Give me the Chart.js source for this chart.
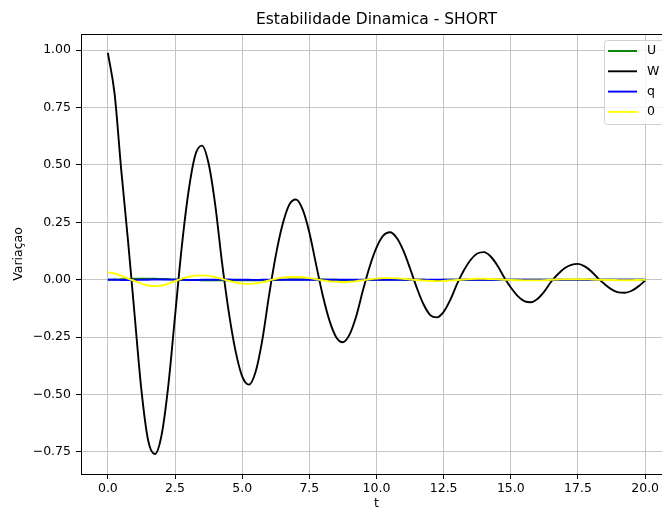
<!DOCTYPE html>
<html lang="pt">
<head>
<meta charset="UTF-8">
<title>Estabilidade Dinamica - SHORT</title>
<script src="https://cdn.jsdelivr.net/npm/chart.js"></script>
<style>
  body { margin: 0; background: #fff; overflow: hidden; }
  #wrap { width: 680px; height: 510px; }
</style>
</head>
<body>
<div id="wrap"><canvas id="chart" width="680" height="510"></canvas></div>
<script>
// sample times
const t = [0, 0.25, 0.5, 0.75, 1, 1.25, 1.5, 1.75, 2, 2.25, 2.5, 2.75, 3, 3.25, 3.5, 3.75,
  4, 4.25, 4.5, 4.75, 5, 5.25, 5.5, 5.75, 6, 6.25, 6.5, 6.75, 7, 7.25, 7.5, 7.75,
  8, 8.25, 8.5, 8.75, 9, 9.25, 9.5, 9.75, 10, 10.25, 10.5, 10.75, 11, 11.25, 11.5, 11.75,
  12, 12.25, 12.5, 12.75, 13, 13.25, 13.5, 13.75, 14, 14.25, 14.5, 14.75, 15, 15.25, 15.5, 15.75,
  16, 16.25, 16.5, 16.75, 17, 17.25, 17.5, 17.75, 18, 18.25, 18.5, 18.75, 19, 19.25, 19.5, 19.75, 20];

const U = [0.000, 0.001, 0.002, 0.003, 0.004, 0.004, 0.004, 0.004, 0.003, 0.002, 0.001, 0.000, -0.001, -0.001, -0.002, -0.002,
  -0.002, -0.003, -0.003, -0.003, -0.003, -0.003, -0.003, -0.002, -0.002, -0.001, 0.000, 0.001, 0.001, 0.001, 0.001, 0.001,
  0.001, 0.000, 0.000, -0.001, -0.001, -0.001, -0.001, 0.000, 0.000, 0.000, 0.001, 0.001, 0.000, 0.000, 0.000, 0.000,
  -0.001, -0.001, 0.000, 0.000, 0.000, 0.000, 0.000, 0.000, 0.000, 0.000, 0.000, 0.000, 0.000, 0.000, 0.000, 0.000,
  0.000, 0.000, 0.000, 0.000, 0.000, 0.000, 0.000, 0.000, 0.000, 0.000, 0.000, 0.000, 0.000, 0.000, 0.000, 0.000, 0.000];

const W = [0.988, 0.810, 0.475, 0.170, -0.159, -0.482, -0.700, -0.759, -0.676, -0.461, -0.159, 0.142, 0.382, 0.541, 0.584, 0.506,
  0.323, 0.074, -0.140, -0.309, -0.421, -0.457, -0.401, -0.262, -0.068, 0.105, 0.239, 0.326, 0.349, 0.306, 0.206, 0.067,
  -0.069, -0.178, -0.250, -0.272, -0.238, -0.157, -0.044, 0.059, 0.140, 0.192, 0.207, 0.183, 0.127, 0.049, -0.035, -0.107,
  -0.154, -0.164, -0.140, -0.087, -0.018, 0.040, 0.086, 0.114, 0.120, 0.101, 0.062, 0.011, -0.034, -0.070, -0.093, -0.098,
  -0.083, -0.051, -0.009, 0.024, 0.050, 0.065, 0.069, 0.058, 0.036, 0.006, -0.020, -0.042, -0.055, -0.057, -0.048, -0.029, -0.004];

const q = [0.000, 0.000, -0.001, -0.001, -0.001, 0.000, 0.000, 0.001, 0.001, 0.001, 0.000, 0.000, -0.001, -0.001, 0.000, 0.000,
  0.000, 0.001, 0.001, 0.000, 0.000, 0.000, -0.001, 0.000, 0.000, 0.000, 0.000, 0.000, 0.000, 0.000, 0.000, 0.000,
  0.000, 0.000, 0.000, 0.000, 0.000, 0.000, 0.000, 0.000, 0.000, 0.000, 0.000, 0.000, 0.000, 0.000, 0.000, 0.000,
  0.000, 0.000, 0.000, 0.000, 0.000, 0.000, 0.000, 0.000, 0.000, 0.000, 0.000, 0.000, 0.000, 0.000, 0.000, 0.000,
  0.000, 0.000, 0.000, 0.000, 0.000, 0.000, 0.000, 0.000, 0.000, 0.000, 0.000, 0.000, 0.000, 0.000, 0.000, 0.000, 0.000];

const theta = [0.032, 0.027, 0.017, 0.005, -0.006, -0.017, -0.025, -0.028, -0.025, -0.017, -0.006, 0.005, 0.013, 0.018, 0.019, 0.017,
  0.011, 0.003, -0.005, -0.012, -0.017, -0.018, -0.016, -0.010, -0.003, 0.004, 0.009, 0.012, 0.012, 0.011, 0.007, 0.002,
  -0.003, -0.007, -0.009, -0.010, -0.009, -0.006, -0.002, 0.002, 0.005, 0.007, 0.007, 0.006, 0.004, 0.001, -0.001, -0.004,
  -0.005, -0.006, -0.005, -0.003, -0.001, 0.001, 0.003, 0.004, 0.004, 0.003, 0.002, 0.000, -0.001, -0.002, -0.003, -0.003,
  -0.003, -0.002, 0.000, 0.001, 0.002, 0.002, 0.002, 0.002, 0.001, 0.000, -0.001, -0.001, -0.002, -0.002, -0.002, -0.001, 0.000];

const xTicks = [0, 2.5, 5, 7.5, 10, 12.5, 15, 17.5, 20];
const yTicks = [-0.75, -0.5, -0.25, 0, 0.25, 0.5, 0.75, 1.0];

const FONT = 'DejaVu Sans';

function series(label, values, color, order) {
    return {
        label: label,
        data: t.map((x, i) => ({ x: x, y: values[i] })),
        borderColor: color,
        borderWidth: 1.9,
        pointRadius: 0,
        cubicInterpolationMode: 'monotone',
        fill: false,
        order: order
    };
}

// black box around the plot area (all four spines)
const framePlugin = {
    id: 'frame',
    beforeDatasetsDraw(chart) {
        const a = chart.chartArea, ctx = chart.ctx;
        ctx.save();
        ctx.strokeStyle = '#000';
        ctx.lineWidth = 1;
        ctx.strokeRect(Math.round(a.left) + 0.5, Math.round(a.top) + 0.5,
            Math.round(a.right - a.left), Math.round(a.bottom - a.top));
        ctx.restore();
    }
};

// matplotlib-like legend box in the upper right corner
const legendPlugin = {
    id: 'boxLegend',
    afterDatasetsDraw(chart) {
        const ctx = chart.ctx, a = chart.chartArea;
        const items = chart.data.datasets;
        const w = 62, rowH = 20.3, h = 84;
        const x = Math.round(a.right - 6 - w), y = Math.round(a.top + 6);
        ctx.save();
        ctx.fillStyle = 'rgba(255,255,255,0.8)';
        ctx.strokeStyle = '#d0d0d0';
        ctx.lineWidth = 1;
        ctx.beginPath();
        ctx.roundRect(x + 0.5, y + 0.5, w, h, 3);
        ctx.fill();
        ctx.stroke();
        ctx.font = '12.5px "' + FONT + '"';
        ctx.textBaseline = 'middle';
        items.forEach((d, i) => {
            const cy = y + 11 + i * rowH;
            ctx.strokeStyle = d.borderColor;
            ctx.lineWidth = 1.9;
            ctx.beginPath();
            ctx.moveTo(x + 4, cy);
            ctx.lineTo(x + 33, cy);
            ctx.stroke();
            ctx.fillStyle = '#000';
            ctx.fillText(d.label, x + 43, cy);
        });
        ctx.restore();
    }
};

new Chart(document.getElementById('chart'), {
    type: 'line',
    data: {
        datasets: [
            series('U', U, 'green', 3),
            series('W', W, 'black', 2),
            series('q', q, 'blue', 1),
            series('0', theta, 'yellow', 0)
        ]
    },
    options: {
        responsive: false,
        animation: false,
        layout: { padding: { left: 0, right: 8, top: 0, bottom: 0 } },
        plugins: {
            legend: { display: false },
            tooltip: { enabled: false },
            title: {
                display: true,
                text: 'Estabilidade Dinamica - SHORT',
                fullSize: false,
                color: '#000',
                font: { family: FONT, size: 15.5, weight: 'normal' },
                padding: { top: 11, bottom: 4.4 }
            }
        },
        scales: {
            x: {
                type: 'linear',
                min: -1,
                max: 21,
                afterBuildTicks: s => { s.ticks = xTicks.map(v => ({ value: v })); },
                afterFit: s => { s.height = 36; },
                border: { display: false },
                grid: { color: '#c4c4c4', lineWidth: 1, tickLength: 5, tickColor: '#000' },
                ticks: {
                    color: '#000',
                    padding: 2,
                    maxRotation: 0,
                    font: { family: FONT, size: 12.5 },
                    callback: v => v.toFixed(1)
                },
                title: {
                    display: true,
                    text: 't',
                    color: '#000',
                    font: { family: FONT, size: 12.5 },
                    padding: { top: 0, bottom: -1 }
                }
            },
            y: {
                min: -0.846,
                max: 1.07,
                afterBuildTicks: s => { s.ticks = yTicks.map(v => ({ value: v })); },
                afterFit: s => { s.width = 81; },
                border: { display: false },
                grid: { color: '#c4c4c4', lineWidth: 1, tickLength: 5, tickColor: '#000' },
                ticks: {
                    color: '#000',
                    padding: 5,
                    font: { family: FONT, size: 12.5 },
                    callback: v => v.toFixed(2).replace('-', '\u2212')
                },
                title: {
                    display: true,
                    text: 'Variaçao',
                    color: '#000',
                    font: { family: FONT, size: 12.5 },
                    padding: { top: 10.8, bottom: 0 }
                }
            }
        }
    },
    plugins: [framePlugin, legendPlugin]
});
</script>
</body>
</html>
